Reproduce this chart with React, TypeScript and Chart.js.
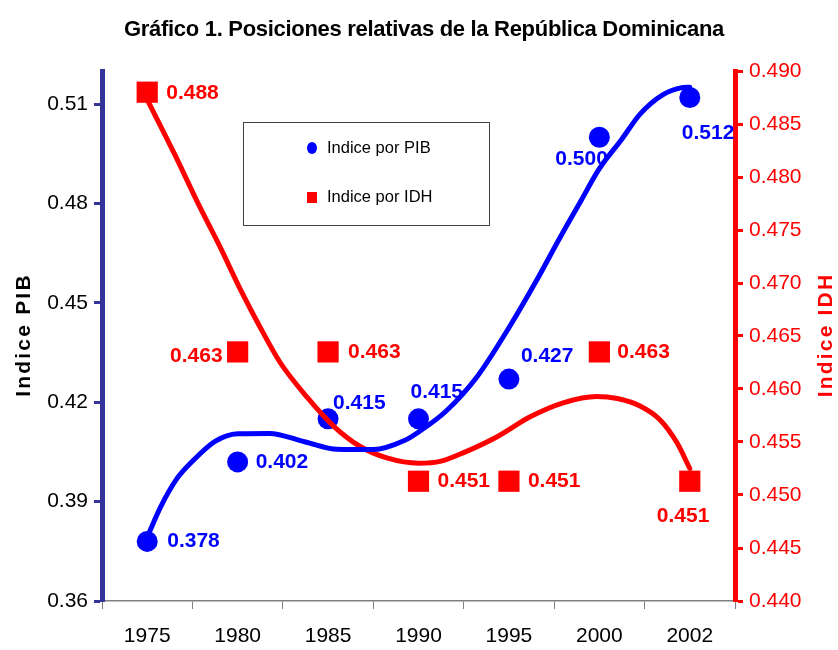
import React, { useEffect, useRef } from 'react';
import { Chart, registerables } from 'chart.js';

Chart.register(...registerables);

const FONT = '"Liberation Sans", Arial, Helvetica, sans-serif';

const years = ['1975', '1980', '1985', '1990', '1995', '2000', '2002'];
const pibValues = [0.378, 0.402, 0.415, 0.415, 0.427, 0.5, 0.512];
const idhValues = [0.488, 0.4635, 0.4635, 0.4513, 0.4513, 0.4635, 0.4513];

const pibTicks = [0.36, 0.39, 0.42, 0.45, 0.48, 0.51];
const idhTicks = [0.44, 0.445, 0.45, 0.455, 0.46, 0.465, 0.47, 0.475, 0.48, 0.485, 0.49];

// Trend lines (x = category position, 0 = 1975 ... 6 = 2002)
const pibTrendX = [0, 0.15, 0.33, 0.5, 0.75, 1.0, 1.35, 1.75, 2.1, 2.5, 2.85, 3.0, 3.3, 3.65, 4.0, 4.3, 4.55, 4.8, 5.0, 5.25, 5.45, 5.7, 5.9, 6.0];
const pibTrendY = [0.3793, 0.3885, 0.397, 0.4022, 0.4082, 0.4105, 0.4106, 0.408, 0.4058, 0.4057, 0.4085, 0.411, 0.4172, 0.4278, 0.4425, 0.4565, 0.469, 0.481, 0.4905, 0.4995, 0.507, 0.5128, 0.5149, 0.5151];
const idhTrendX = [0, 0.3, 0.58, 0.8, 1.03, 1.25, 1.47, 1.77, 2.06, 2.35, 2.65, 3.0, 3.25, 3.5, 3.87, 4.24, 4.6, 4.97, 5.2, 5.45, 5.67, 5.86, 6.0];
const idhTrendY = [0.4873, 0.4822, 0.4772, 0.4735, 0.4694, 0.4658, 0.4625, 0.4592, 0.4565, 0.4546, 0.4535, 0.453, 0.4532, 0.454, 0.4555, 0.4574, 0.4587, 0.4593, 0.4591, 0.4584, 0.4571, 0.4549, 0.4525];

const titleText = 'Gráfico 1. Posiciones relativas de la República Dominicana';
const pibName = 'Indice por PIB';
const idhName = 'Indice por IDH';
const pibAxisTitle = 'Indice PIB';
const idhAxisTitle = 'Indice IDH';

// label placement relative to the marker: [dx, dy, align]
const pibLabelPos: [number, number, CanvasTextAlign][] = [
  [20, 0, 'left'], [18, 0, 'left'], [5, -16, 'left'], [-8, -27, 'left'],
  [12, -23, 'left'], [-44, 22, 'left'], [-8, 36, 'left'],
];
const idhLabelPos: [number, number, CanvasTextAlign][] = [
  [19, 1, 'left'], [-15, 4, 'right'], [20, 0, 'left'], [19, 0, 'left'],
  [19, 0, 'left'], [18, 0, 'left'], [-33, 35, 'left'],
];

const BLUE = '#0000ff';
const RED = '#ff0000';
const NAVY = '#333399';

function setSpacing(ctx: any, v: string) {
  try { ctx.letterSpacing = v; } catch (e) { /* ignore */ }
}

const overlayPlugin = {
  id: 'overlay',
  afterDraw(chart: any) {
    const ctx = chart.ctx as CanvasRenderingContext2D;
    const pibMeta = chart.getDatasetMeta(2);
    const idhMeta = chart.getDatasetMeta(3);
    ctx.save();
    ctx.textBaseline = 'middle';
    ctx.font = `bold 21px ${FONT}`;
    pibValues.forEach((v, i) => {
      const el = pibMeta.data[i];
      const [dx, dy, al] = pibLabelPos[i];
      ctx.textAlign = al;
      ctx.fillStyle = BLUE;
      ctx.fillText(v.toFixed(3), el.x + dx, el.y + dy);
    });
    idhValues.forEach((v, i) => {
      const el = idhMeta.data[i];
      const [dx, dy, al] = idhLabelPos[i];
      ctx.textAlign = al;
      ctx.fillStyle = RED;
      const shown = Math.floor(v * 1000 + 1e-6) / 1000;
      ctx.fillText(shown.toFixed(3), el.x + dx, el.y + dy);
    });

    // title
    ctx.textAlign = 'center';
    ctx.fillStyle = '#000';
    ctx.font = `bold 22px ${FONT}`;
    setSpacing(ctx, '-0.3px');
    ctx.fillText(titleText, 424, 30);
    setSpacing(ctx, '0px');

    // axis titles
    ctx.font = `bold 21px ${FONT}`;
    setSpacing(ctx, '2.2px');
    ctx.save();
    ctx.translate(24, 335);
    ctx.rotate(-Math.PI / 2);
    ctx.fillStyle = '#000';
    ctx.fillText(pibAxisTitle, 0, 0);
    ctx.restore();
    ctx.save();
    ctx.translate(826, 335);
    ctx.rotate(-Math.PI / 2);
    ctx.fillStyle = RED;
    ctx.fillText(idhAxisTitle, 0, 0);
    ctx.restore();
    setSpacing(ctx, '0px');

    // legend box
    ctx.fillStyle = '#ffffff';
    ctx.fillRect(243.5, 122.5, 246, 103);
    ctx.strokeStyle = '#404040';
    ctx.lineWidth = 1;
    ctx.strokeRect(243.5, 122.5, 246, 103);
    ctx.fillStyle = BLUE;
    ctx.beginPath();
    ctx.ellipse(312, 148, 5, 6, 0, 0, Math.PI * 2);
    ctx.fill();
    ctx.fillStyle = RED;
    ctx.fillRect(307, 192, 10, 11);
    ctx.fillStyle = '#000';
    ctx.textAlign = 'left';
    ctx.font = `16.5px ${FONT}`;
    ctx.fillText(pibName, 327, 148);
    ctx.fillText(idhName, 327, 197);
    ctx.restore();
  },
};

export default function App() {
  const ref = useRef<HTMLCanvasElement | null>(null);

  useEffect(() => {
    if (!ref.current) return;
    const tickFont = { family: FONT, size: 21 };
    const chart = new Chart(ref.current, {
      type: 'line',
      data: {
        labels: years,
        datasets: [
          {
            label: 'trend PIB',
            data: pibTrendX.map((x, i) => ({ x, y: pibTrendY[i] })),
            xAxisID: 'xt',
            yAxisID: 'y',
            borderColor: BLUE,
            borderWidth: 5,
            pointRadius: 0,
            cubicInterpolationMode: 'monotone',
            fill: false,
            borderCapStyle: 'round',
            order: 1,
          } as any,
          {
            label: 'trend IDH',
            data: idhTrendX.map((x, i) => ({ x, y: idhTrendY[i] })),
            xAxisID: 'xt',
            yAxisID: 'y1',
            borderColor: RED,
            borderWidth: 5,
            pointRadius: 0,
            cubicInterpolationMode: 'monotone',
            fill: false,
            borderCapStyle: 'round',
            order: 1,
          } as any,
          {
            label: pibName,
            data: pibValues,
            xAxisID: 'x',
            yAxisID: 'y',
            showLine: false,
            pointStyle: 'circle',
            pointRadius: 10.5,
            pointBackgroundColor: BLUE,
            pointBorderWidth: 0,
            borderColor: BLUE,
            order: 2,
          } as any,
          {
            label: idhName,
            data: idhValues,
            xAxisID: 'x',
            yAxisID: 'y1',
            showLine: false,
            pointStyle: 'rect',
            pointRadius: 15,
            pointBackgroundColor: RED,
            pointBorderWidth: 0,
            borderColor: RED,
            order: 2,
          } as any,
        ],
      },
      options: {
        responsive: false,
        animation: false,
        devicePixelRatio: 1,
        layout: { padding: { top: 71, left: 0, right: 0, bottom: 0 } },
        plugins: {
          legend: { display: false },
          title: { display: false },
          tooltip: { enabled: false },
        },
        events: [],
        scales: {
          x: {
            type: 'category',
            position: 'bottom',
            offset: true,
            grid: {
              drawOnChartArea: false,
              offset: true,
              tickLength: 8,
              color: '#808080',
              lineWidth: 1,
            },
            border: { color: '#808080', width: 1.5 },
            ticks: { font: tickFont, color: '#000', padding: 15, maxRotation: 0, autoSkip: false },
            afterFit: (s: any) => { s.height = 49; },
          },
          xt: {
            type: 'linear',
            display: false,
            min: -0.5,
            max: 6.5,
          },
          y: {
            type: 'linear',
            position: 'left',
            min: 0.36,
            max: 0.52,
            afterBuildTicks: (s: any) => { s.ticks = pibTicks.map((v) => ({ value: v })); },
            ticks: { font: tickFont, color: '#000', padding: 6, callback: (v: any) => Number(v).toFixed(2) },
            grid: { drawOnChartArea: false, tickLength: 8, tickWidth: 3, tickColor: NAVY, color: NAVY },
            border: { color: NAVY, width: 5 },
            afterFit: (s: any) => { s.width = 102; },
          },
          y1: {
            type: 'linear',
            position: 'right',
            min: 0.44,
            max: 0.49,
            afterBuildTicks: (s: any) => { s.ticks = idhTicks.map((v) => ({ value: v })); },
            ticks: { font: tickFont, color: RED, padding: 6, callback: (v: any) => Number(v).toFixed(3) },
            grid: { drawOnChartArea: false, tickLength: 8, tickWidth: 3, tickColor: RED, color: RED },
            border: { color: RED, width: 5 },
            afterFit: (s: any) => { s.width = 103; },
          },
        },
      } as any,
      plugins: [overlayPlugin],
    });
    return () => chart.destroy();
  }, []);

  return (
    <div style={{ position: 'absolute', left: 0, top: 0, width: 838, height: 650, background: '#fff' }}>
      <canvas ref={ref} width={838} height={650} style={{ display: 'block' }} />
    </div>
  );
}
